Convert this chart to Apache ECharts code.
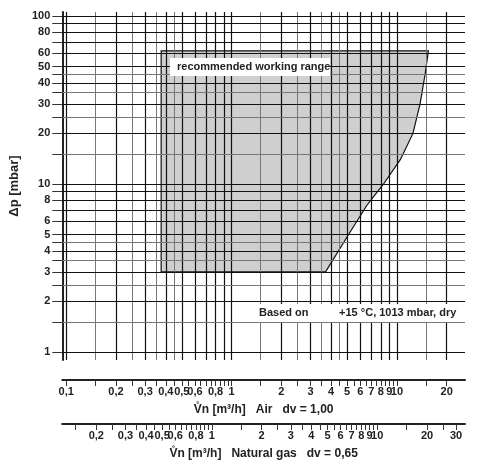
<!DOCTYPE html>
<html><head><meta charset="utf-8">
<script src="https://cdn.jsdelivr.net/npm/echarts@6/dist/echarts.min.js"></script>
<style>body{margin:0;background:#fff}#c{width:484px;height:469px}</style>
</head><body><div id="c"></div>
<script>
// range boundary (air flow m3/h, dp mbar)
const rangeX = [0.375, 0.375, 15.5, 14.8, 13.8, 12.5, 10.5, 8.3, 6.6, 5.1, 3.7];
const rangeY = [3, 62, 62, 45, 30, 20, 14, 10, 7.5, 5, 3];
const gridX = [0.1,0.15,0.2,0.25,0.3,0.35,0.4,0.45,0.5,0.6,0.7,0.8,0.9,1,1.5,2,2.5,3,3.5,4,4.5,5,6,7,8,9,10,15,20];
const gridY = [1,1.5,2,2.5,3,3.5,4,4.5,5,6,7,8,9,10,15,20,25,30,35,40,45,50,60,70,80,90,100];
const airLabels = [0.1,0.2,0.3,0.4,0.5,0.6,0.8,1,2,3,4,5,6,7,8,9,10,20];
const airTicks = [0.1,0.15,0.2,0.25,0.3,0.35,0.4,0.45,0.5,0.55,0.6,0.65,0.7,0.75,0.8,0.85,0.9,0.95,1,1.5,2,2.5,3,3.5,4,4.5,5,5.5,6,6.5,7,7.5,8,8.5,9,9.5,10,15,20];
const gasLabels = [0.2,0.3,0.4,0.5,0.6,0.8,1,2,3,4,5,6,7,8,9,10,20,30];
const gasTicks = [0.15,0.2,0.25,0.3,0.35,0.4,0.45,0.5,0.55,0.6,0.65,0.7,0.75,0.8,0.85,0.9,0.95,1,1.5,2,2.5,3,3.5,4,4.5,5,5.5,6,6.5,7,7.5,8,8.5,9,9.5,10,15,20,25,30];
const yLabels = [1,2,3,4,5,6,8,10,20,30,40,50,60,80,100];
const gasFactor = 0.76;

const xMin = 0.0946, xMax = 25.8, yMin = 0.896, yMax = 105.6;
const fmt = v => String(+v.toFixed(2)).replace('.', ',');
const isMajor = v => { const p = Math.pow(10, Math.floor(Math.log10(v) + 1e-9)); return Math.abs(v / p - Math.round(v / p)) < 1e-9; };
const font = {fontFamily: 'Liberation Sans', fontWeight: 'bold', fontSize: 11, color: '#222'};
const ls = v => ({type: 'solid', color: isMajor(v) ? '#111' : '#777', width: isMajor(v) ? 1.2 : 1});

const vLines = gridX.map(v => ({xAxis: v, lineStyle: ls(v)}));
const hLines = gridY.map(v => ({yAxis: v, lineStyle: ls(v)}));

const chart = echarts.init(document.getElementById('c'));
chart.setOption({
  animation: false,
  grid: {left: 56, right: 19, top: 12, bottom: 109},
  xAxis: [
    {type: 'log', min: xMin, max: xMax, position: 'bottom', offset: 20,
     axisLine: {lineStyle: {color: '#222', width: 2}},
     axisTick: {customValues: airTicks, length: 6, lineStyle: {color: '#333'}},
     axisLabel: {customValues: airLabels, formatter: fmt, ...font, margin: 6},
     splitLine: {show: false},
     name: 'V̊n [m³/h]   Air   dv = 1,00', nameLocation: 'middle', nameGap: 24,
     nameTextStyle: {...font, fontSize: 12}},
    {type: 'log', min: xMin / gasFactor, max: xMax / gasFactor, position: 'bottom', offset: 64,
     axisLine: {onZero: false, lineStyle: {color: '#222', width: 2}},
     axisTick: {customValues: gasTicks, length: 6, lineStyle: {color: '#333'}},
     axisLabel: {customValues: gasLabels, formatter: fmt, ...font, margin: 6},
     splitLine: {show: false},
     name: 'V̊n [m³/h]   Natural gas   dv = 0,65', nameLocation: 'middle', nameGap: 24,
     nameTextStyle: {...font, fontSize: 12}}
  ],
  yAxis: {type: 'log', min: yMin, max: yMax,
    axisLine: {show: true, lineStyle: {color: '#222', width: 2}},
    axisTick: {customValues: gridY, length: 10, lineStyle: {color: '#333'}},
    axisLabel: {customValues: yLabels, formatter: fmt, ...font, margin: 12},
    splitLine: {show: false},
    name: 'Δp [mbar]', nameLocation: 'middle', nameGap: 38, nameRotate: 90,
    nameTextStyle: {...font, fontSize: 13}},
  series: [
    {type: 'custom', xAxisIndex: 0, z: 1, data: [[0, 0]],
     renderItem: (params, api) => ({
       type: 'polygon',
       shape: {points: rangeX.map((x, i) => api.coord([x, rangeY[i]])), smooth: 0},
       style: {fill: '#cfcfcf', stroke: '#111', lineWidth: 1.2}
     })},
    {type: 'line', xAxisIndex: 0, data: [], z: 3,
     markLine: {silent: true, symbol: 'none', label: {show: false}, data: vLines.concat(hLines)}}
  ],
  graphic: [
    {type: 'rect', shape: {x: 170, y: 58, width: 160, height: 18}, style: {fill: '#fff'}, z: 10},
    {type: 'text', left: 177, top: 61, z: 11, style: {text: 'recommended working range', font: 'bold 11px Liberation Sans', fill: '#222'}},
    {type: 'rect', shape: {x: 252, y: 304, width: 213, height: 18}, style: {fill: '#fff'}, z: 10},
    {type: 'text', left: 259, top: 307, z: 11, style: {text: 'Based on          +15 °C, 1013 mbar, dry', font: 'bold 11px Liberation Sans', fill: '#222'}}
  ]
});
</script></body></html>
